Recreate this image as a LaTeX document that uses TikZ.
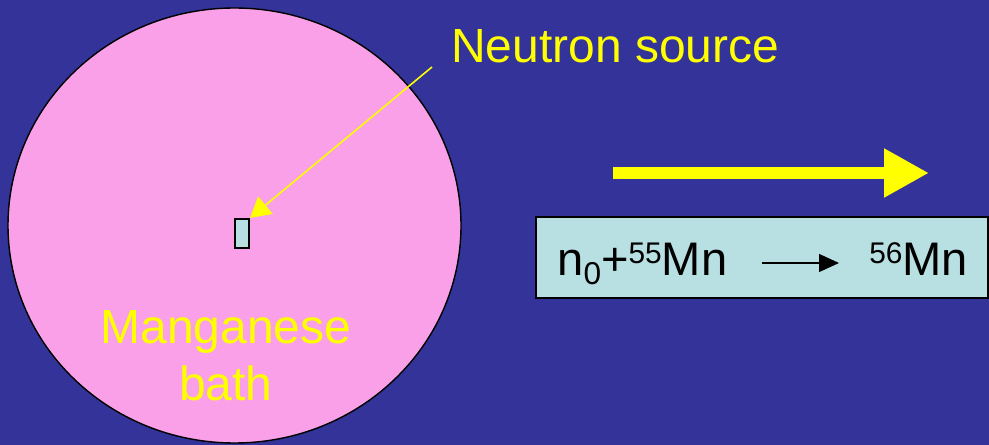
\documentclass[tikz,border=0pt]{standalone}
\usepackage{fontspec}
\setmainfont{Liberation Sans}
\usepackage{xcolor}
\usepackage{tikz}
\usetikzlibrary{arrows.meta,positioning}

\definecolor{slidebg}{RGB}{51,51,153}
\definecolor{bathpink}{RGB}{250,160,232}
\definecolor{paleteal}{RGB}{184,224,226}
\definecolor{labelyellow}{RGB}{255,255,0}

% isotope numbers
\newcommand{\isosup}[1]{\raisebox{0.26cm}{\fontsize{17}{17}\selectfont #1}}
\newcommand{\isosub}[1]{\raisebox{-0.18cm}{\fontsize{18}{18}\selectfont #1}}

\begin{document}
\begin{tikzpicture}[x=0.02cm,y=-0.02cm,
  label text/.style={text=labelyellow,font=\fontsize{27.3}{32.4}\selectfont,inner sep=0pt},
  eq text/.style={font=\fontsize{26.8}{30}\selectfont,inner sep=0pt},
  tealbox/.style={draw=black,fill=paleteal,inner sep=0pt}]
% slide background
\fill[slidebg] (0,0) rectangle (989,445);
% manganese bath
\draw[line width=0.8pt,fill=bathpink] (234.5,225.5) ellipse (226.5 and 217.5);
\node[label text,align=center,anchor=north] (bathlabel) at (226,310) {Manganese\\bath};
% neutron source in the middle
\node[tealbox,line width=1.2pt,minimum width=0.28cm,minimum height=0.58cm] (source) at (242,233.5) {};
\node[label text,anchor=base west] (nslabel) at (451,63) {Neutron source};
\coordinate (nstail) at (432,67);
\draw[labelyellow,line width=0.9pt,-{Triangle[length=0.4cm,width=0.45cm]}]
  (nstail) -- (source.north east);
% big flow arrow
\coordinate (flowstart) at (613,173);
\coordinate (flowend) at (929,173);
\draw[labelyellow,line width=0.24cm,-{Triangle[length=0.9cm,width=0.92cm]}]
  (flowstart) -- (flowend);
% reaction box
\node[tealbox,line width=0.8pt,minimum width=9.04cm,minimum height=1.62cm] (eqbox) at (762,257.5) {};
\node[eq text,anchor=base west] (lhs) at (557,276) {n\isosub{0}+\isosup{55}Mn};
\node[eq text,anchor=base west] (rhs) at (869,276) {\isosup{56}Mn};
\draw[line width=0.75pt,-{Triangle[length=0.4cm,width=0.36cm]},shorten <=0.68cm,shorten >=0.6cm]
  ([yshift=0.26cm]lhs.base east) -- ([yshift=0.26cm]rhs.base west);
\end{tikzpicture}
\end{document}
